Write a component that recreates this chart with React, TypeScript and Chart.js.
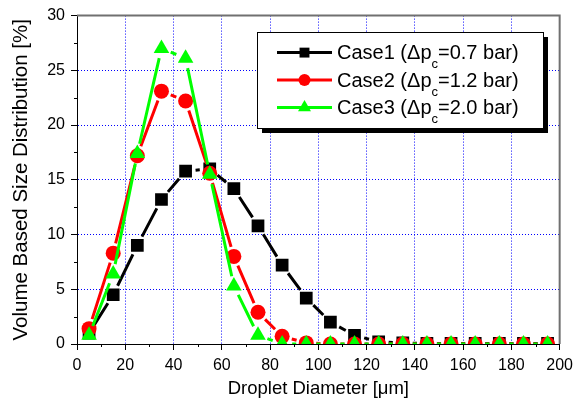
import React, { useEffect, useRef } from 'react';
import { Chart, registerables } from 'chart.js';

Chart.register(...registerables);

// ---- data ----
const diameters = [5, 15, 25, 35, 45, 55, 65, 75, 85, 95, 105, 115, 125, 135, 145, 155, 165, 175, 185, 195];
const case1Values = [1.0, 4.5, 9.0, 13.2, 15.8, 16.0, 14.2, 10.8, 7.2, 4.2, 2.0, 0.8, 0.2, 0.1, 0.05, 0.05, 0.05, 0.05, 0.05, 0.05];
const case2Values = [1.4, 8.3, 17.2, 23.1, 22.2, 15.6, 8.0, 2.9, 0.7, 0.1, 0, 0, 0, 0, 0, 0, 0, 0, 0, 0];
const case3Values = [0.8, 6.4, 17.4, 27.0, 26.1, 15.5, 5.3, 0.8, 0, 0, 0, 0, 0, 0, 0, 0, 0, 0, 0, 0];
const caseNames = ['Case1', 'Case2', 'Case3'];
const pressureDrops = ['0.7', '1.2', '2.0'];
const xTitle = 'Droplet Diameter [\u03bcm]';
const yTitle = 'Volume Based Size Distribution [%]';

// ---- styles ----
const FONT = "'Liberation Sans', Arial, Helvetica, sans-serif";
const seriesColors = ['#000000', '#ff0000', '#00ff00'];
const seriesShapes = ['rect', 'circle', 'triangle'];
const seriesRadius = [9, 7.5, 9];
const legendRadius = [7, 6, 7.5];
const LINE_GAP = 10;

function drawMarker(ctx: CanvasRenderingContext2D, shape: string, x: number, y: number, r: number, color: string) {
  ctx.save();
  ctx.fillStyle = color;
  ctx.beginPath();
  if (shape === 'rect') {
    const s = Math.SQRT1_2 * r;
    ctx.rect(x - s, y - s, 2 * s, 2 * s);
  } else if (shape === 'circle') {
    ctx.arc(x, y, r, 0, Math.PI * 2);
  } else {
    ctx.moveTo(x, y - r);
    ctx.lineTo(x + Math.sin(Math.PI * 2 / 3) * r, y + r / 2);
    ctx.lineTo(x - Math.sin(Math.PI * 2 / 3) * r, y + r / 2);
    ctx.closePath();
  }
  ctx.fill();
  ctx.restore();
}

const gapLinePlugin = {
  id: 'gapLines',
  beforeDatasetDraw(chart: any, args: any) {
    const meta = args.meta;
    const ds = chart.data.datasets[args.index];
    const pts = meta.data;
    const { ctx, chartArea: a } = chart;
    ctx.save();
    ctx.beginPath();
    ctx.rect(a.left, a.top, a.right - a.left, a.bottom - a.top);
    ctx.clip();
    ctx.strokeStyle = ds.borderColor;
    ctx.lineWidth = 3;
    ctx.lineCap = 'butt';
    ctx.beginPath();
    for (let i = 0; i < pts.length - 1; i++) {
      const p = pts[i];
      const q = pts[i + 1];
      const dx = q.x - p.x;
      const dy = q.y - p.y;
      const d = Math.hypot(dx, dy);
      if (d <= 2 * LINE_GAP) continue;
      const ux = dx / d;
      const uy = dy / d;
      ctx.moveTo(p.x + ux * LINE_GAP, p.y + uy * LINE_GAP);
      ctx.lineTo(q.x - ux * LINE_GAP, q.y - uy * LINE_GAP);
    }
    ctx.stroke();
    ctx.restore();
  },
};

const framePlugin = {
  id: 'frame',
  afterDatasetsDraw(chart: any) {
    const { ctx, chartArea: a, scales } = chart;
    ctx.save();
    ctx.strokeStyle = '#707070';
    ctx.lineWidth = 2;
    ctx.beginPath();
    ctx.moveTo(a.left, a.top);
    ctx.lineTo(a.right, a.top);
    ctx.lineTo(a.right, a.bottom);
    ctx.stroke();
    // minor ticks
    ctx.strokeStyle = '#000';
    ctx.lineWidth = 1;
    ctx.beginPath();
    for (let v = 10; v < 200; v += 20) {
      const px = Math.round(scales.x.getPixelForValue(v)) + 0.5;
      ctx.moveTo(px, a.bottom);
      ctx.lineTo(px, a.bottom + 3);
    }
    for (let v = 2.5; v < 30; v += 5) {
      const py = Math.round(scales.y.getPixelForValue(v)) + 0.5;
      ctx.moveTo(a.left, py);
      ctx.lineTo(a.left - 3, py);
    }
    ctx.stroke();
    ctx.restore();
  },
};

const legendPlugin = {
  id: 'customLegend',
  afterDraw(chart: any) {
    const { ctx } = chart;
    const lx = 257, ly = 32, lw = 286, lh = 96;
    ctx.save();
    ctx.fillStyle = '#000';
    ctx.fillRect(lx + 5, ly + 5, lw, lh);
    ctx.fillStyle = '#fff';
    ctx.fillRect(lx, ly, lw, lh);
    ctx.strokeStyle = '#000';
    ctx.lineWidth = 1;
    ctx.strokeRect(lx + 0.5, ly + 0.5, lw, lh);
    for (let i = 0; i < caseNames.length; i++) {
      const cy = 52.6 + i * 27.4;
      const color = seriesColors[i];
      ctx.strokeStyle = color;
      ctx.lineWidth = 3;
      ctx.beginPath();
      ctx.moveTo(277, cy);
      ctx.lineTo(332, cy);
      ctx.stroke();
      drawMarker(ctx, seriesShapes[i], 304.5, cy, legendRadius[i], color);
      const base = cy + 6.7;
      ctx.fillStyle = '#000';
      ctx.textBaseline = 'alphabetic';
      ctx.textAlign = 'left';
      ctx.font = `20px ${FONT}`;
      const part1 = `${caseNames[i]} (\u0394p`;
      let x = 337;
      ctx.fillText(part1, x, base);
      x += ctx.measureText(part1).width;
      ctx.font = `13px ${FONT}`;
      ctx.fillText('c', x, base + 9);
      x += ctx.measureText('c').width;
      ctx.font = `20px ${FONT}`;
      ctx.fillText(`=${pressureDrops[i]} bar)`, x, base);
    }
    ctx.restore();
  },
};

export default function App() {
  const canvasRef = useRef<HTMLCanvasElement | null>(null);

  useEffect(() => {
    if (!canvasRef.current) return;
    Chart.defaults.font.family = FONT;
    const seriesValues = [case1Values, case2Values, case3Values];
    const datasets = seriesValues.map((vals, i) => ({
      label: `${caseNames[i]} (\u0394pc=${pressureDrops[i]} bar)`,
      data: diameters.map((d, j) => ({ x: d, y: vals[j] })),
      borderColor: seriesColors[i],
      backgroundColor: seriesColors[i],
      borderWidth: 3,
      showLine: false,
      pointStyle: seriesShapes[i],
      pointRadius: seriesRadius[i],
      pointBorderWidth: 0,
      pointBackgroundColor: seriesColors[i],
      pointBorderColor: seriesColors[i],
      order: 2 - i,
    }));
    const chart = new Chart(canvasRef.current, {
      type: 'line',
      data: { datasets },
      options: {
        animation: false,
        responsive: false,
        events: [],
        layout: { padding: { left: 0, top: 12, right: 16, bottom: 0 } },
        plugins: { legend: { display: false }, tooltip: { enabled: false } },
        scales: {
          x: {
            type: 'linear',
            min: 0,
            max: 200,
            ticks: { stepSize: 20, color: '#000', font: { size: 16 }, padding: 6, maxRotation: 0 },
            grid: { color: '#0000ff', lineWidth: 1, tickLength: 6, tickColor: '#000', tickWidth: 1 },
            border: { color: '#000', width: 1, dash: [1, 2] },
            title: { display: true, text: xTitle, color: '#000', font: { size: 18.5 }, padding: { top: 0, bottom: 2 } },
            afterFit: (s: any) => { s.height = 58; },
          },
          y: {
            type: 'linear',
            min: 0,
            max: 30,
            ticks: { stepSize: 5, color: '#000', font: { size: 16 }, padding: 6 },
            grid: { color: '#0000ff', lineWidth: 1, tickLength: 6, tickColor: '#000', tickWidth: 1 },
            border: { color: '#000', width: 1, dash: [1, 2] },
            title: { display: true, text: yTitle, color: '#000', font: { size: 20.5 }, padding: { top: 9, bottom: 0 } },
            afterFit: (s: any) => { s.width = 77; },
          },
        },
      },
      plugins: [gapLinePlugin, framePlugin, legendPlugin],
    } as any);
    return () => chart.destroy();
  }, []);

  return (
    <div style={{ position: 'fixed', left: 0, top: 0, width: 579, height: 402, background: '#fff' }}>
      <canvas ref={canvasRef} width={579} height={402} style={{ display: 'block' }} />
    </div>
  );
}
